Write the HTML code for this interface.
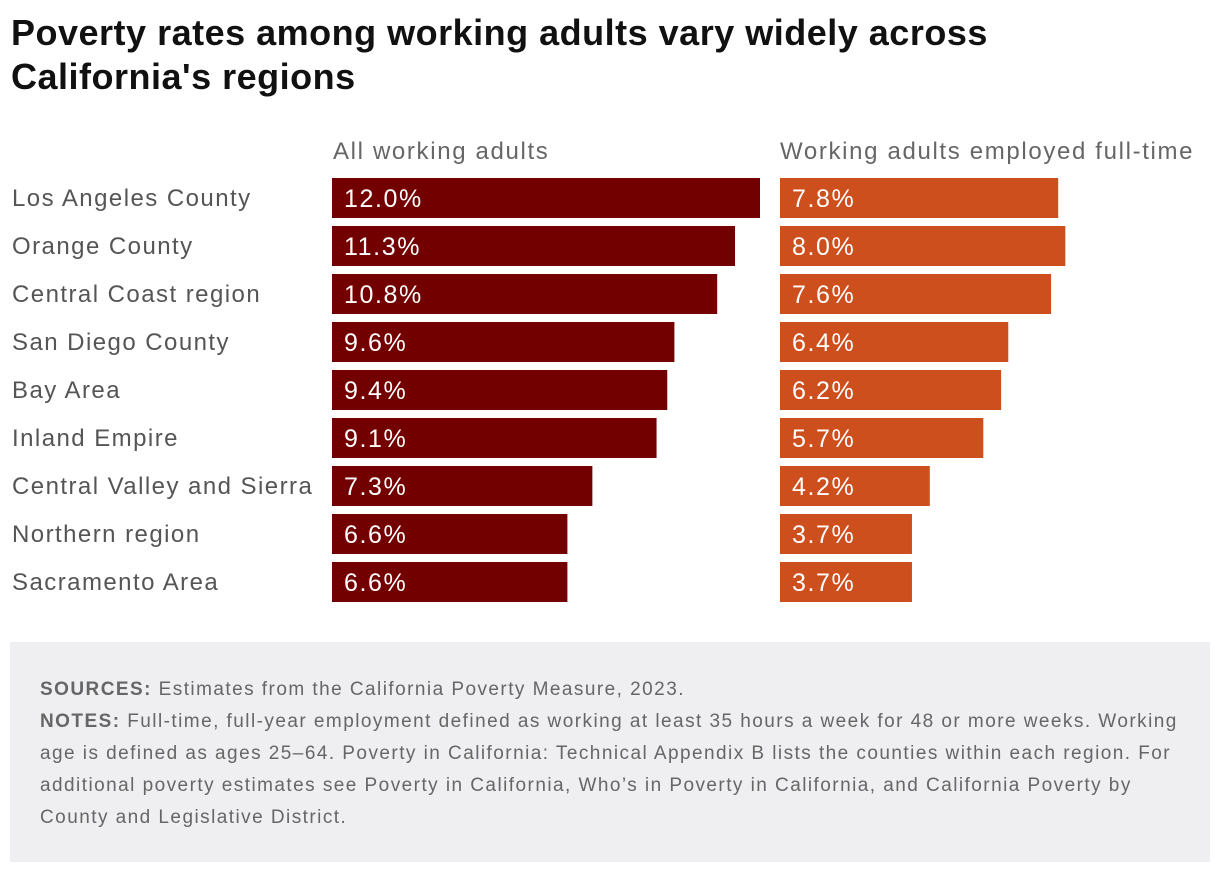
<!DOCTYPE html>
<html><head><meta charset="utf-8"><style>
body{margin:0;background:#fff;font-family:"Liberation Sans",sans-serif;}
#wrap{position:relative;width:1220px;height:872px;overflow:hidden;}
h1{position:absolute;left:11px;top:11px;margin:0;font-size:36px;line-height:44px;font-weight:bold;color:#111;width:1030px;letter-spacing:0.5px}
.hdr{position:absolute;top:138px;font-size:24px;color:#666;letter-spacing:1.65px}
#notes{position:absolute;left:10px;top:642px;width:1200px;height:220px;background:#efeff1;}
#notes p{margin:0;position:absolute;left:30px;top:32px;width:1150px;font-size:19px;line-height:32px;color:#666;letter-spacing:1.45px}
</style></head><body>
<div id="wrap">
<h1>Poverty rates among working adults vary widely across California's regions</h1>
<div class="hdr" style="left:333px">All working adults</div>
<div class="hdr" style="left:780px">Working adults employed full-time</div>
<svg id="plot" width="1220" height="640" style="position:absolute;left:0;top:0"></svg>
<div id="notes"><p><b>SOURCES:</b> Estimates from the California Poverty Measure, 2023.<br><b>NOTES:</b> Full-time, full-year employment defined as working at least 35 hours a week for 48 or more weeks. Working age is defined as ages 25–64. Poverty in California: Technical Appendix B lists the counties within each region. For additional poverty estimates see Poverty in California, Who’s in Poverty in California, and California Poverty by County and Legislative District.</p></div>
</div>
<script>
const categories=["Los Angeles County","Orange County","Central Coast region","San Diego County","Bay Area","Inland Empire","Central Valley and Sierra","Northern region","Sacramento Area"];
const allAdults=[12.0,11.3,10.8,9.6,9.4,9.1,7.3,6.6,6.6];
const fullTime=[7.8,8.0,7.6,6.4,6.2,5.7,4.2,3.7,3.7];
const svg=document.getElementById('plot');
const NS='http://www.w3.org/2000/svg';
const scale=428/12;
function x(v){return v*scale;}
function y(i){return 178+i*48;}
function mk(tag,attrs){const e=document.createElementNS(NS,tag);for(const k in attrs)e.setAttribute(k,attrs[k]);svg.appendChild(e);return e;}
categories.forEach((c,i)=>{
  const t=mk('text',{x:12,y:y(i)+28,'font-size':24,fill:'#555','font-family':'Liberation Sans, sans-serif','letter-spacing':1.45});
  t.textContent=c;
  
  
  [[allAdults,332,'#730000','bar-all'],[fullTime,780,'#cc4f1d','bar-fulltime']].forEach(([arr,x0,col,nm])=>{
    const r=mk('rect',{x:x0,y:y(i),width:x(arr[i]),height:40,fill:col});
    
    
    const v=mk('text',{x:x0+12,y:y(i)+29,'font-size':25,fill:'#fff','font-family':'Liberation Sans, sans-serif','letter-spacing':1.6});
    v.textContent=arr[i].toFixed(1)+'%';
    
    
  });
});
</script>
</body></html>
